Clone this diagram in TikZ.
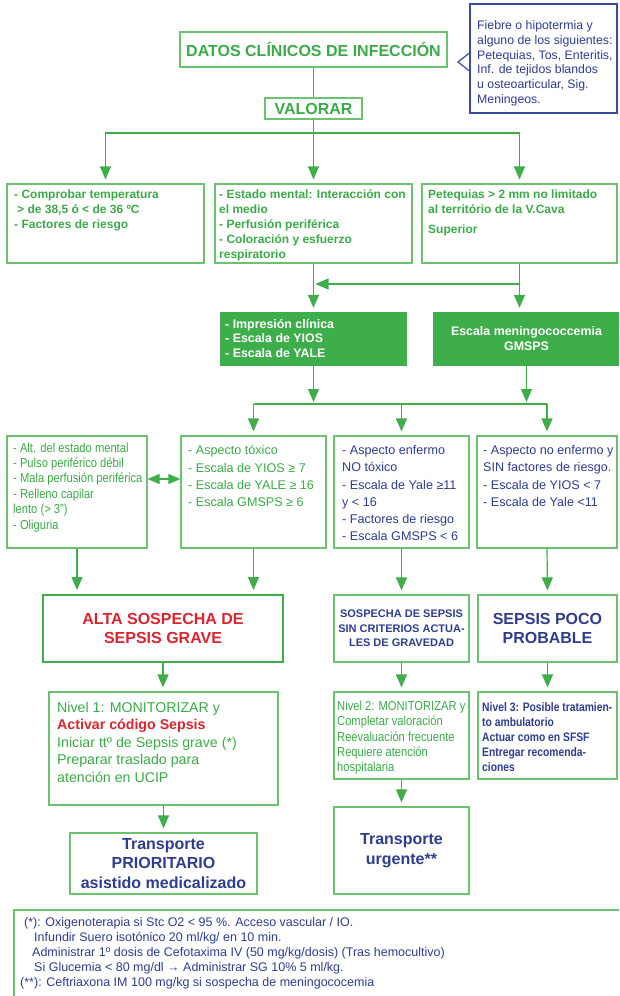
\documentclass[tikz,border=0pt]{standalone}
\usepackage{fontspec}
\setmainfont{Liberation Sans}
\newfontfamily\narrowsf{Liberation Sans}[FakeStretch=0.86]
\newfontfamily\narrowersf{Liberation Sans}[FakeStretch=0.84]
\usetikzlibrary{arrows.meta}

\definecolor{lgreen}{HTML}{6CC26E}
\definecolor{dgreen}{HTML}{3DAE49}
\definecolor{tgreen}{HTML}{3BAA48}
\definecolor{nblue}{HTML}{2E3D8F}
\definecolor{cblue}{HTML}{3B4BA0}
\definecolor{sred}{HTML}{D9252F}

\tikzset{
  box/.style={draw=lgreen, line width=1.2pt, inner sep=0pt, align=center},
  fillbox/.style={fill=dgreen, inner sep=0pt, align=center},
  txt/.style={anchor=north west, inner sep=0pt, align=left},
  link/.style={draw=dgreen, line width=1.2pt},
  arr/.style={link, -{Triangle[length=13pt,width=11pt]}, shorten >=4pt},
  arrj/.style={link, -{Triangle[length=13pt,width=11pt]}, shorten >=2pt},
  dbl/.style={link, {Triangle[length=12pt,width=10pt]}-{Triangle[length=12pt,width=10pt]}}
}

\begin{document}
\begin{tikzpicture}[x=1pt,y=-1pt]
\useasboundingbox (0,0) rectangle (619,996);
\clip (0,0) rectangle (619,996);
\fill[white] (0,0) rectangle (619,996);

% --- top: clinical data and assessment ---
\node[box, minimum width=267pt, minimum height=35pt, text=tgreen,
      font=\fontsize{16}{19}\selectfont\bfseries] (datos) at (313.5,49.5) {DATOS CLÍNICOS DE INFECCIÓN};
\node[draw=cblue, line width=1.2pt, inner sep=0pt, minimum width=147pt, minimum height=109pt] (nota) at (543.5,58.5) {};
\coordinate (ntip) at (458,62);
\draw[cblue, line width=1.2pt] (nota.west |- 0,53) -- (ntip) -- (nota.west |- 0,71);
\node[txt, text=nblue, font=\fontsize{12.3}{14.7}\selectfont] (notatxt) at (477,20.5)
  {Fiebre o hipotermia y\\alguno de los siguientes:\\Petequias, Tos, Enteritis,\\Inf. de tejidos blandos\\u osteoarticular, Sig.\\Meningeos.};

\node[box, minimum width=97pt, minimum height=21pt, text=tgreen,
      font=\fontsize{16}{19}\selectfont\bfseries] (valorar) at (313.5,108.5) {VALORAR};

% --- first row of checks ---
\node[box, minimum width=197pt, minimum height=79pt] (b1) at (105.5,223.5) {};
\node[box, minimum width=197pt, minimum height=79pt] (b2) at (313.5,223.5) {};
\node[box, minimum width=195pt, minimum height=79pt] (b3) at (519.5,223.5) {};
\node[txt, text=tgreen, font=\fontsize{12}{15}\selectfont\bfseries] (b1txt) at (14,189.3)
  {- Comprobar temperatura\\\hspace*{3pt}> de 38,5 ó < de 36 ºC\\- Factores de riesgo};
\node[txt, text=tgreen, font=\fontsize{12}{15}\selectfont\bfseries] (b2txt) at (219,189.3)
  {- Estado mental: Interacción con\\el medio\\- Perfusión periférica\\- Coloración y esfuerzo\\respiratorio};
\node[txt, text=tgreen, font=\fontsize{12}{15}\selectfont\bfseries] (b3txt) at (428,189.3)
  {Petequias > 2 mm no limitado\\al território de la V.Cava\\[5pt]Superior};

\coordinate (s1) at (313.5,133);
\draw[link] (datos) -- (valorar);
\draw[link] (valorar) -- (s1);
\draw[arr] (s1) -| (b1.north);
\draw[arr] (s1) -- (b2.north);
\draw[arr] (s1) -| (b3.north);

% --- scales ---
\node[fillbox, minimum width=187pt, minimum height=54pt] (escA) at (313.5,339) {};
\node[txt, text=white, font=\fontsize{12.4}{14.6}\selectfont\bfseries] (escAtxt) at (225,319)
  {- Impresión clínica\\- Escala de YIOS\\- Escala de YALE};
\node[fillbox, minimum width=187pt, minimum height=54pt, text=white,
      font=\fontsize{12.4}{15}\selectfont\bfseries] (escB) at (526.5,339) {Escala meningococcemia\\GMSPS};

\coordinate (m3) at (519.5,284);
\draw[arr] (b2.south) -- (escA.north);
\draw[arr] (b3.south) -- (b3.south |- escA.north);
\draw[arrj] (m3) -- (m3 -| b2.south);

% --- second row of findings ---
\node[box, minimum width=140pt, minimum height=112pt] (cL) at (77,492) {};
\node[box, minimum width=145pt, minimum height=112pt] (cM1) at (253.5,492) {};
\node[box, minimum width=135pt, minimum height=112pt] (cM2) at (401.5,492) {};
\node[box, minimum width=140pt, minimum height=112pt] (cR) at (547,492) {};
\node[txt, text=tgreen, font=\narrowsf\fontsize{13}{15.4}\selectfont] (cLtxt) at (13,442.5)
  {- Alt. del estado mental\\- Pulso periférico débil\\- Mala perfusión periférica\\- Relleno capilar\\lento (> 3”)\\- Oliguria};
\node[txt, text=tgreen, font=\fontsize{12.6}{17.2}\selectfont] (cM1txt) at (188,445.4)
  {- Aspecto tóxico\\- Escala de YIOS ≥ 7\\- Escala de YALE ≥ 16\\- Escala GMSPS ≥ 6};
\node[txt, text=nblue, font=\fontsize{12.6}{17.2}\selectfont] (cM2txt) at (342,445.4)
  {- Aspecto enfermo\\NO tóxico\\- Escala de Yale ≥11\\y < 16\\- Factores de riesgo\\- Escala GMSPS < 6};
\node[txt, text=nblue, font=\fontsize{12.6}{17.2}\selectfont] (cRtxt) at (483,445.4)
  {- Aspecto no enfermo y\\SIN factores de riesgo.\\- Escala de YIOS < 7\\- Escala de Yale <11};

\coordinate (s2) at (313.5,404);
\coordinate (dblrow) at (0,479);
\draw[arrj] (escA.south) -- (s2);
\draw[arrj] (escB.south) -- (escB.south |- s2);
\draw[link] (cM1.north |- s2) -- (cR.north |- s2);
\draw[arr] (cM1.north |- s2) -- (cM1.north);
\draw[arr] (cM2.north |- s2) -- (cM2.north);
\draw[arr] (cR.north |- s2) -- (cR.north);
\draw[dbl] (cL.east |- dblrow) -- (cM1.west |- dblrow);

% --- diagnosis ---
\node[draw=dgreen, line width=2pt, inner sep=0pt, align=center, minimum width=240pt, minimum height=67pt,
      text=sred, font=\fontsize{16}{19}\selectfont\bfseries] (alta) at (163,628.5) {ALTA SOSPECHA DE\\SEPSIS GRAVE};
\node[box, minimum width=135pt, minimum height=67pt, text=nblue,
      font=\fontsize{11}{14.5}\selectfont\bfseries] (sosp) at (401.5,628.5) {SOSPECHA DE SEPSIS\\SIN CRITERIOS ACTUA-\\LES DE GRAVEDAD};
\node[box, minimum width=139pt, minimum height=67pt, text=nblue,
      font=\fontsize{16}{19}\selectfont\bfseries] (poco) at (547.5,628.5) {SEPSIS POCO\\PROBABLE};

\draw[arr] (cL.south) -- (cL.south |- alta.north);
\draw[arr] (cM1.south) -- (cM1.south |- alta.north);
\draw[arr] (cM2.south) -- (sosp.north);
\draw[arr] (cR.south) -- (poco.north);

% --- levels of care ---
\node[box, minimum width=229pt, minimum height=113pt] (niv1) at (163.5,748.5) {};
\node[box, minimum width=135pt, minimum height=87pt] (niv2) at (401.5,735.5) {};
\node[box, minimum width=139pt, minimum height=87pt] (niv3) at (547.5,735.5) {};
\node[txt, text=tgreen, font=\fontsize{14.2}{17.5}\selectfont] (niv1txt) at (57,701.6)
  {Nivel 1: MONITORIZAR y\\\textcolor{sred}{\bfseries Activar código Sepsis}\\Iniciar ttº de Sepsis grave (*)\\Preparar traslado para\\atención en UCIP};
\node[txt, text=tgreen, font=\narrowsf\fontsize{13}{15.2}\selectfont] (niv2txt) at (337,701)
  {Nivel 2: MONITORIZAR y\\Completar valoración\\Reevaluación frecuente\\Requiere atención\\hospitalaria};
\node[txt, text=nblue, font=\narrowersf\fontsize{12.3}{15}\selectfont\bfseries] (niv3txt) at (482,702.5)
  {Nivel 3: Posible tratamien-\\to ambulatorio\\Actuar como en SFSF\\Entregar recomenda-\\ciones};

\draw[arr] (alta.south) -- (alta.south |- niv1.north);
\draw[arr] (sosp.south) -- (niv2.north);
\draw[arr] (poco.south) -- (niv3.north);

% --- transport ---
\node[box, minimum width=187pt, minimum height=61pt, text=nblue,
      font=\fontsize{16}{19.5}\selectfont\bfseries] (tr1) at (163.5,863.5) {Transporte\\PRIORITARIO\\asistido medicalizado};
\node[box, minimum width=135pt, minimum height=87pt, text=nblue,
      font=\fontsize{16}{19.5}\selectfont\bfseries] (tr2) at (401.5,850.5) {Transporte\\urgente**};

\draw[arr] (niv1.south) -- (niv1.south |- tr1.north);
\draw[arr] (niv2.south) -- (tr2.north);

% --- footnotes ---
\node[box, minimum width=611pt, minimum height=92pt] (notas) at (319.5,956) {};
\node[txt, text=nblue, font=\fontsize{12.5}{15}\selectfont] (notastxt) at (24,917)
  {(*): Oxigenoterapia si Stc O2 < 95 \%. Acceso vascular / IO.\\
   \hspace*{10pt}Infundir Suero isotónico 20 ml/kg/ en 10 min.\\
   \hspace*{8pt}Administrar 1º dosis de Cefotaxima IV (50 mg/kg/dosis) (Tras hemocultivo)\\
   \hspace*{10pt}Si Glucemia < 80 mg/dl → Administrar SG 10\% 5 ml/kg.\\
   \hspace*{-4pt}(**): Ceftriaxona IM 100 mg/kg si sospecha de meningococemia};
\end{tikzpicture}
\end{document}
